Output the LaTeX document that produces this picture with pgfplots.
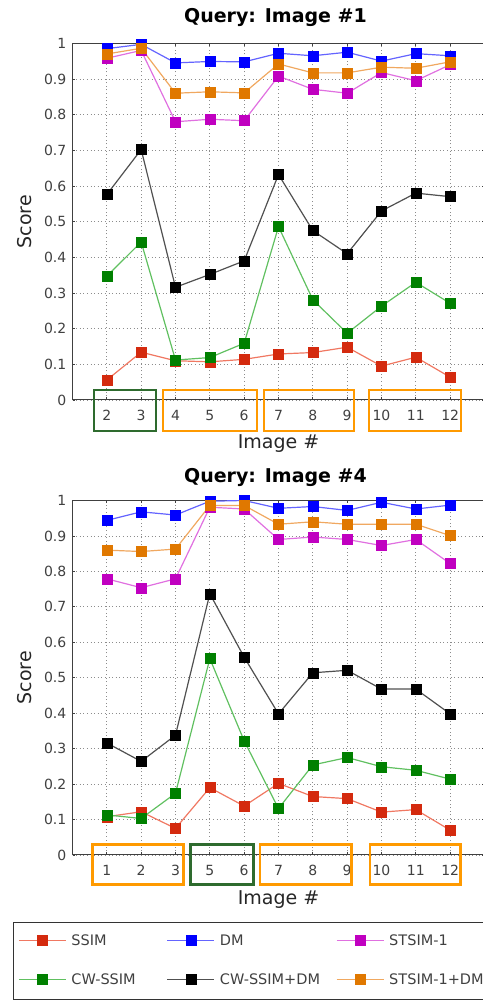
\documentclass[border=0pt]{standalone}
\usepackage{fontspec}
\setmainfont{DejaVu Sans}
\usepackage{pgfplots}
\pgfplotsset{compat=1.18}
\definecolor{ssimM}{HTML}{D42A0E}\definecolor{ssimL}{HTML}{F07862}
\definecolor{dmM}{HTML}{0000FF}\definecolor{dmL}{HTML}{6464FF}
\definecolor{stM}{HTML}{C000C0}\definecolor{stL}{HTML}{E070E0}
\definecolor{cwM}{HTML}{008000}\definecolor{cwL}{HTML}{60C060}
\definecolor{cdM}{HTML}{000000}\definecolor{cdL}{HTML}{505050}
\definecolor{sdM}{HTML}{E07800}\definecolor{sdL}{HTML}{F0A860}
\definecolor{boxG}{HTML}{2E6B2E}\definecolor{boxO}{HTML}{FF9A00}
\pgfplotsset{
  ser/.style 2 args={color=#1, line width=1.2bp, mark=square*, mark size=5bp,
    mark options={solid, fill=#2, draw=#2, line width=0.4bp}},
  myax/.style={
    scale only axis, width=412bp, xmin=0, xmax=12, ymin=0, ymax=1,
    xtick={1,...,11}, ytick={0,0.1,...,1}, clip=false,
    grid=major, major grid style={black!45, dash pattern=on 1bp off 2.6bp, line width=0.8bp},
    axis line style={line width=1bp, black!75}, tick style={black!75, line width=0.8bp},
    major tick length=3bp, tick align=inside,
    /pgf/number format/assume math mode=true,
    ticklabel style={font=\fontsize{14bp}{16bp}\selectfont, text=black!75},
    xticklabel style={inner sep=0pt, anchor=north, yshift=-10bp},
    yticklabel style={inner sep=0pt, xshift=-6bp},
    label style={font=\fontsize{19bp}{22bp}\selectfont, text=black!85},
    ylabel style={at={(axis description cs:-0.1153,0.5)}, anchor=center},
    xlabel style={at={(axis description cs:0.5,0)}, anchor=base, yshift=-49bp},
    title style={font=\bfseries\fontsize{19bp}{22bp}\selectfont, at={(axis description cs:0.5,1)}, anchor=base, xshift=-3bp},
    legend image code/.code={\draw[mark repeat=2,mark phase=2,##1,yshift=5bp] plot coordinates {(0bp,0bp) (23.5bp,0bp) (47bp,0bp)};},
  }
}
\begin{document}
\begin{tikzpicture}
\path[use as bounding box] (0,0) rectangle (483bp,1003bp);
\begin{axis}[myax, at={(72.5bp,603bp)}, anchor=south west, height=356.7bp,
  xticklabels={2,3,4,5,6,7,8,9,10,11,12},
  title={Query: Image \#1}, title style={yshift=15bp},
  xlabel={Image \#}, ylabel={Score}]
\addplot[ser={ssimL}{ssimM}] coordinates {(1,0.056)(2,0.134)(3,0.110)(4,0.107)(5,0.114)(6,0.129)(7,0.133)(8,0.148)(9,0.095)(10,0.120)(11,0.064)};
\addplot[ser={dmL}{dmM}] coordinates {(1,0.985)(2,0.997)(3,0.945)(4,0.949)(5,0.948)(6,0.972)(7,0.965)(8,0.975)(9,0.950)(10,0.971)(11,0.965)};
\addplot[ser={stL}{stM}] coordinates {(1,0.958)(2,0.980)(3,0.780)(4,0.787)(5,0.783)(6,0.908)(7,0.871)(8,0.860)(9,0.918)(10,0.895)(11,0.940)};
\addplot[ser={cwL}{cwM}] coordinates {(1,0.347)(2,0.443)(3,0.112)(4,0.119)(5,0.159)(6,0.486)(7,0.281)(8,0.187)(9,0.263)(10,0.330)(11,0.271)};
\addplot[ser={cdL}{cdM}] coordinates {(1,0.576)(2,0.702)(3,0.316)(4,0.352)(5,0.390)(6,0.632)(7,0.475)(8,0.410)(9,0.530)(10,0.580)(11,0.570)};
\addplot[ser={sdL}{sdM}] coordinates {(1,0.970)(2,0.986)(3,0.860)(4,0.864)(5,0.861)(6,0.942)(7,0.917)(8,0.917)(9,0.933)(10,0.930)(11,0.948)};
\end{axis}
\begin{axis}[myax, at={(72.5bp,148bp)}, anchor=south west, height=354.5bp,
  xticklabels={1,2,3,5,6,7,8,9,10,11,12},
  title={Query: Image \#4}, title style={yshift=12bp},
  xlabel={Image \#}, ylabel={Score},
  legend columns=3,
  legend style={at={(axis description cs:-0.1444,-0.1918)}, anchor=north west,
    draw=none, fill=none, inner xsep=5bp, inner ysep=11bp, row sep=25bp,
    font=\fontsize{14.5bp}{17bp}\selectfont, text=black!75,
    nodes={inner sep=0pt, text height=11bp, text depth=3bp, anchor=base west},
    /tikz/every odd column/.style={column sep=5bp},
    /tikz/column 2/.style={column sep=31bp},
    /tikz/column 4/.style={column sep=16bp}}]
\addplot[ser={ssimL}{ssimM}] coordinates {(1,0.108)(2,0.122)(3,0.075)(4,0.190)(5,0.138)(6,0.202)(7,0.165)(8,0.159)(9,0.121)(10,0.128)(11,0.070)};
\addlegendentry{SSIM}
\addplot[ser={dmL}{dmM}] coordinates {(1,0.944)(2,0.968)(3,0.959)(4,0.998)(5,1.000)(6,0.978)(7,0.983)(8,0.972)(9,0.995)(10,0.976)(11,0.987)};
\addlegendentry{DM}
\addplot[ser={stL}{stM}] coordinates {(1,0.779)(2,0.754)(3,0.779)(4,0.981)(5,0.976)(6,0.890)(7,0.897)(8,0.890)(9,0.873)(10,0.890)(11,0.822)};
\addlegendentry{STSIM-1}
\addplot[ser={cwL}{cwM}] coordinates {(1,0.113)(2,0.103)(3,0.174)(4,0.554)(5,0.322)(6,0.131)(7,0.254)(8,0.275)(9,0.249)(10,0.239)(11,0.214)};
\addlegendentry{CW-SSIM}
\addplot[ser={cdL}{cdM}] coordinates {(1,0.316)(2,0.264)(3,0.338)(4,0.737)(5,0.558)(6,0.398)(7,0.514)(8,0.521)(9,0.468)(10,0.468)(11,0.398)};
\addlegendentry{CW-SSIM+DM}
\addplot[ser={sdL}{sdM}] coordinates {(1,0.860)(2,0.856)(3,0.863)(4,0.986)(5,0.986)(6,0.933)(7,0.940)(8,0.933)(9,0.933)(10,0.933)(11,0.901)};
\addlegendentry{STSIM-1+DM}
\end{axis}
% legend frame
\draw[black!80, line width=1bp] (13bp,3bp) rectangle (520bp,80bp);
% highlight boxes around tick labels
\draw[line width=2.8bp, boxG] (94bp,572bp) rectangle (156bp,613bp);
\draw[line width=2.8bp, boxO] (163bp,572bp) rectangle (257bp,613bp);
\draw[line width=2.8bp, boxO] (264bp,572bp) rectangle (354bp,613bp);
\draw[line width=2.8bp, boxO] (369bp,572bp) rectangle (461bp,613bp);
\draw[line width=2.8bp, boxO] (92.7bp,118.7bp) rectangle (183.3bp,158.7bp);
\draw[line width=2.8bp, boxG] (190.7bp,118.7bp) rectangle (253.3bp,158.7bp);
\draw[line width=2.8bp, boxO] (260bp,118.7bp) rectangle (351.7bp,158.7bp);
\draw[line width=2.8bp, boxO] (370bp,118.7bp) rectangle (460.7bp,158.7bp);
\end{tikzpicture}
\end{document}
